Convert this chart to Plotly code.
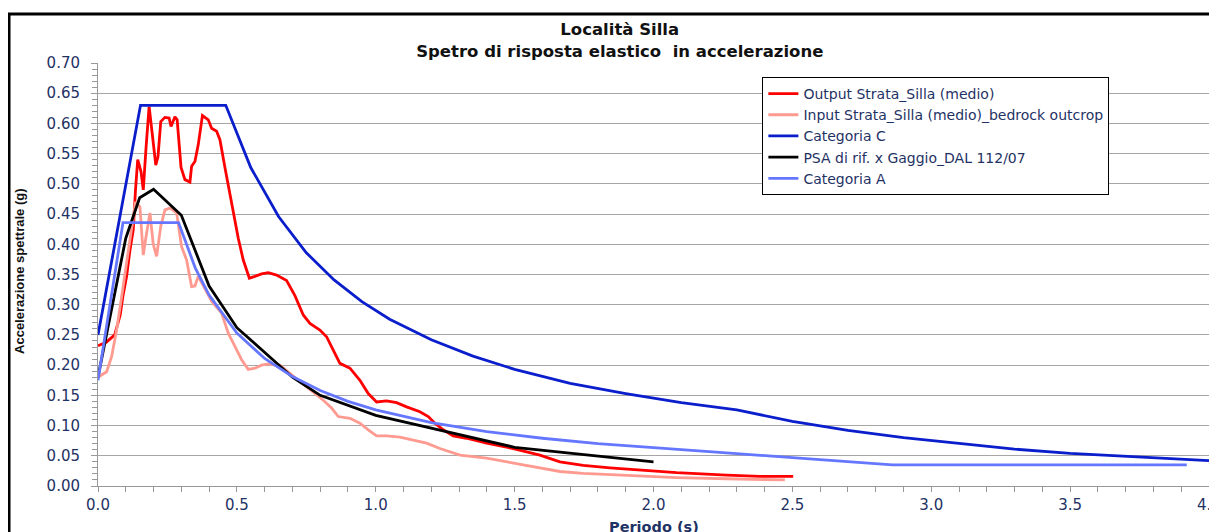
import plotly.graph_objects as go

# ---- data ----
out_T = [0.0, 0.03, 0.06, 0.08, 0.09, 0.103, 0.115, 0.127, 0.135, 0.143, 0.155, 0.163, 0.173, 0.184,
         0.196, 0.208, 0.216, 0.226, 0.241, 0.256, 0.263, 0.277, 0.285, 0.299, 0.313, 0.331, 0.337,
         0.349, 0.361, 0.376, 0.397, 0.409, 0.427, 0.439, 0.457, 0.481, 0.505, 0.523, 0.545, 0.565,
         0.589, 0.613, 0.643, 0.679, 0.709, 0.739, 0.763, 0.799, 0.823, 0.847, 0.871, 0.907, 0.943,
         0.973, 1.003, 1.039, 1.075, 1.111, 1.159, 1.189, 1.213, 1.243, 1.279, 1.327, 1.399, 1.495,
         1.591, 1.663, 1.747, 1.843, 1.963, 2.083, 2.263, 2.383, 2.503]
out_Sa = [0.232, 0.238, 0.25, 0.283, 0.315, 0.347, 0.39, 0.424, 0.49, 0.54, 0.52, 0.49, 0.56, 0.628,
          0.58, 0.531, 0.545, 0.603, 0.61, 0.609, 0.595, 0.611, 0.606, 0.527, 0.507, 0.503, 0.529,
          0.537, 0.565, 0.613, 0.606, 0.592, 0.587, 0.573, 0.527, 0.465, 0.41, 0.374, 0.344, 0.347,
          0.351, 0.353, 0.349, 0.34, 0.315, 0.283, 0.269, 0.258, 0.247, 0.225, 0.203, 0.195, 0.175,
          0.153, 0.139, 0.141, 0.138, 0.131, 0.123, 0.115, 0.104, 0.093, 0.083, 0.079, 0.071, 0.062,
          0.051, 0.040, 0.034, 0.030, 0.026, 0.022, 0.018, 0.016, 0.016]

inp_T = [0.0, 0.031, 0.049, 0.067, 0.085, 0.103, 0.121, 0.135, 0.151, 0.163, 0.172, 0.187, 0.199,
         0.211, 0.226, 0.241, 0.26, 0.283, 0.301, 0.319, 0.337, 0.349, 0.361, 0.38, 0.41, 0.445,
         0.469, 0.493, 0.517, 0.541, 0.565, 0.589, 0.613, 0.637, 0.655, 0.727, 0.775, 0.811, 0.841,
         0.865, 0.907, 0.943, 0.973, 1.003, 1.039, 1.087, 1.135, 1.183, 1.231, 1.303, 1.399, 1.495,
         1.591, 1.663, 1.747, 1.903, 2.083, 2.263, 2.473]
inp_Sa = [0.18, 0.189, 0.214, 0.258, 0.313, 0.369, 0.424, 0.47, 0.462, 0.382, 0.41, 0.452, 0.4,
          0.38, 0.43, 0.457, 0.46, 0.452, 0.396, 0.374, 0.33, 0.331, 0.347, 0.33, 0.305, 0.286,
          0.253, 0.231, 0.209, 0.193, 0.195, 0.2, 0.202, 0.2, 0.2, 0.173, 0.156, 0.142, 0.129,
          0.115, 0.112, 0.104, 0.093, 0.083, 0.083, 0.081, 0.076, 0.071, 0.062, 0.051, 0.046, 0.038,
          0.029, 0.024, 0.021, 0.018, 0.014, 0.012, 0.010]

catC_T = [0.0, 0.153, 0.46, 0.55, 0.65, 0.75, 0.85, 0.95, 1.05, 1.2, 1.35, 1.5, 1.7, 1.9, 2.1,
          2.3, 2.5, 2.7, 2.9, 3.1, 3.3, 3.5, 3.7, 3.9, 4.0]
catC_Sa = [0.25, 0.63, 0.63, 0.527, 0.446, 0.386, 0.341, 0.305, 0.276, 0.242, 0.215, 0.193, 0.170,
           0.153, 0.138, 0.126, 0.107, 0.092, 0.080, 0.070, 0.061, 0.054, 0.049, 0.044, 0.042]

psa_T = [0.0, 0.1, 0.15, 0.2, 0.3, 0.4, 0.5, 0.7, 0.8, 1.0, 1.5, 2.0]
psa_Sa = [0.18, 0.41, 0.477, 0.491, 0.448, 0.331, 0.262, 0.18, 0.15, 0.117, 0.064, 0.040]

catA_T = [0.0, 0.09, 0.29, 0.35, 0.4, 0.5, 0.6, 0.7, 0.8, 0.9, 1.0, 1.2, 1.4, 1.6, 1.8, 2.0,
          2.2, 2.5, 2.7, 2.86, 3.92]
catA_Sa = [0.175, 0.436, 0.436, 0.361, 0.316, 0.253, 0.211, 0.181, 0.158, 0.140, 0.126, 0.105,
           0.090, 0.079, 0.070, 0.063, 0.057, 0.047, 0.040, 0.035, 0.035]

names = ["Output Strata_Silla (medio)", "Input Strata_Silla (medio)_bedrock outcrop",
         "Categoria C", "PSA di rif. x Gaggio_DAL 112/07", "Categoria A"]
colors = ["#FF0000", "#FF9A90", "#0A1ECC", "#000000", "#6677FF"]
xs = [out_T, inp_T, catC_T, psa_T, catA_T]
ys = [out_Sa, inp_Sa, catC_Sa, psa_Sa, catA_Sa]

fig = go.Figure()
for n, c, x, y in zip(names, colors, xs, ys):
    fig.add_trace(go.Scatter(x=x, y=y, mode="lines", name=n,
                             line=dict(color=c, width=2.8)))

FONT = "DejaVu Sans, Verdana, sans-serif"
tickfont = dict(family=FONT, size=15, color="#1F3264")

fig.update_layout(
    width=1209, height=524,
    margin=dict(l=90, r=8, t=55, b=46, autoexpand=False),
    paper_bgcolor="white", plot_bgcolor="white",
    title=dict(text="<b>Località Silla<br>Spetro di risposta elastico  in accelerazione</b>",
               x=0.506, xanchor="center", y=0.948, yanchor="middle",
               font=dict(family=FONT, size=16.5, color="#111111")),
    legend=dict(x=0.598, y=0.967, xanchor="left", yanchor="top",
                bordercolor="#000000", borderwidth=1, bgcolor="white",
                font=dict(family=FONT, size=14, color="#1F3264"),
                tracegroupgap=0, itemwidth=30),
    xaxis=dict(range=[0, 4.0], dtick=0.5, tickformat=".1f", showgrid=False, zeroline=False,
               showline=True, linecolor="#999999", linewidth=1,
               ticks="outside", ticklen=5, tickcolor="#999999", ticklabeloverflow="allow",
               minor=dict(dtick=0.1, ticks="outside", ticklen=5, tickcolor="#999999", showgrid=False),
               tickfont=tickfont),
    yaxis=dict(range=[0, 0.70], dtick=0.05, tickformat=".2f", showgrid=True, gridcolor="#A6A6A6",
               gridwidth=1, zeroline=False, showline=True, linecolor="#999999", linewidth=1,
               ticks="outside", ticklen=6, tickcolor="#999999", ticklabelstandoff=8,
               minor=dict(dtick=0.01, ticks="outside", ticklen=5, tickcolor="#999999", showgrid=False),
               tickfont=tickfont),
    showlegend=True,
)

fig.add_annotation(text="<b>Accelerazione spettrale (g)</b>", xref="paper", yref="paper",
                   x=-0.0702, y=0.506, textangle=-90, showarrow=False,
                   xanchor="center", yanchor="middle",
                   font=dict(family="Liberation Sans Narrow, Arial Narrow, sans-serif", size=13,
                             color="#111111"))
fig.add_annotation(text="<b>Periodo (s)</b>", xref="paper", yref="paper",
                   x=0.5, y=-0.097, showarrow=False, xanchor="center", yanchor="middle",
                   font=dict(family=FONT, size=14.5, color="#1F3264"))

# outer chart frame
fig.add_shape(type="rect", xref="paper", yref="paper",
              x0=-0.0801, y0=-0.25, x1=1.05, y1=1.1158,
              line=dict(color="#000000", width=3), fillcolor="rgba(0,0,0,0)", layer="above")

fig.write_html("out.html")
